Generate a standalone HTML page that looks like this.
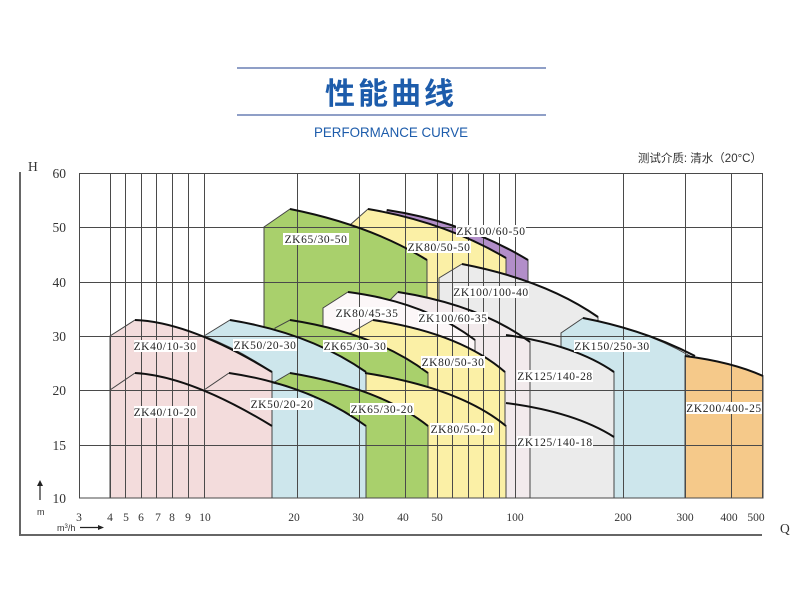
<!DOCTYPE html>
<html><head><meta charset="utf-8"><style>
html,body{margin:0;padding:0;background:#fff;}
svg{display:block;}
.lb{font-family:"Liberation Serif",serif;font-size:11.5px;letter-spacing:0.6px;fill:#222;}
.ax{font-family:"Liberation Serif",serif;font-size:13.5px;fill:#333;}
.xt{font-family:"Liberation Serif",serif;font-size:11.5px;fill:#333;}
</style></head><body>
<svg width="800" height="594" viewBox="0 0 800 594" xmlns="http://www.w3.org/2000/svg">
<!-- header -->
<line x1="237" y1="68" x2="546" y2="68" stroke="#1f3f8f" stroke-width="1"/>
<line x1="237" y1="115" x2="546" y2="115" stroke="#1f3f8f" stroke-width="1"/>
<text x="391" y="104" text-anchor="middle" font-family="'Liberation Sans','Noto Sans CJK SC',sans-serif" font-size="30" font-weight="bold" fill="#1d5cab" letter-spacing="3">性能曲线</text>
<text x="391" y="137" text-anchor="middle" font-family="'Liberation Sans',sans-serif" font-size="14" fill="#1d5cab" textLength="154" lengthAdjust="spacingAndGlyphs">PERFORMANCE CURVE</text>
<text x="762" y="162" text-anchor="end" font-family="'Liberation Sans','Noto Sans CJK SC',sans-serif" font-size="11.5" fill="#333">测试介质: 清水（20°C）</text>

<!-- fills -->
<g stroke="#444" stroke-width="1">
<path d="M387,210 Q465,222 528,260 V292 H387 Z" fill="#b28ec9"/>
<path d="M350,498 V225 L368,209 Q445,222 506,258 V498 Z" fill="#fbf0a6"/>
<path d="M439,498 V278 L462,264 Q545,280 598,317 V340 H614 V498 Z" fill="#ebebeb"/>
<path d="M561,498 V333 L583,318 Q645,330 690,356 L685,356 V498 Z" fill="#cde6ec"/>
<path d="M506,498 V335 Q575,345 614,372 V498 Z" fill="#ebebeb"/>
<path d="M685,498 V356 Q732,362 763,376 V498 Z" fill="#f5c98a"/>
<path d="M264,498 V227 L290,209 Q370,225 427,260 V498 Z" fill="#a9d06c"/>
<path d="M390,498 V300 L398,292 Q480,305 530,342 V498 Z" fill="#f2eaec"/>
<path d="M323,498 V308 L348,292 Q425,302 475,340 V498 Z" fill="#fcf7f8"/>
<path d="M347,498 V335 L373,320 Q460,333 505,372 V498 Z" fill="#fbf0a6"/>
<path d="M275,498 V328 L290,320 Q375,333 428,373 V498 Z" fill="#a9d06c"/>
<path d="M350,498 V383 L365,373 Q460,388 506,426 V498 Z" fill="#fbf0a6"/>
<path d="M110,498 V336 L135,320 Q190,322 272,372 V498 Z" fill="#f3dcdc"/>
<path d="M204,336 L230,320 Q310,333 366,372 V498 H272 V372 Q240,350 204,336 Z" fill="#cde6ec"/>
<path d="M273,383 L290,373 Q380,388 428,426 V498 H366 V426 Q320,393 273,383 Z" fill="#a9d06c"/>
</g>

<!-- grid -->
<g stroke="#4a4a4a" stroke-width="1" fill="none">
<rect x="79.5" y="173.5" width="683" height="324.5"/>
<line x1="80" y1="227.5" x2="763" y2="227.5"/>
<line x1="80" y1="282.5" x2="763" y2="282.5"/>
<line x1="80" y1="336.5" x2="763" y2="336.5"/>
<line x1="80" y1="390.5" x2="763" y2="390.5"/>
<line x1="80" y1="445.5" x2="763" y2="445.5"/>
<path d="M110.5,173V498 M125.5,173V498 M141.5,173V498 M156.5,173V498 M172.5,173V498 M188.5,173V498 M204.5,173V498 M297.5,173V498 M359.5,173V498 M405.5,173V498 M437.5,173V498 M452.5,173V498 M468.5,173V498 M483.5,173V498 M499.5,173V498 M515.5,173V498 M623.5,173V498 M685.5,173V498 M731.5,173V498"/>
</g>

<!-- curves -->
<g stroke="#111" stroke-width="2" fill="none">
<path d="M387,210 Q465,222 528,260"/>
<path d="M368,209 Q445,222 506,258"/>
<path d="M290,209 Q370,225 427,260"/>
<path d="M462,264 Q545,280 598,317"/>
<path d="M583,318 Q645,330 695,356"/>
<path d="M685,356 Q732,362 763,376"/>
<path d="M506,335 Q575,345 614,372"/>
<path d="M506,403 Q575,412 614,437"/>
<path d="M398,292 Q480,305 530,342"/>
<path d="M348,292 Q425,302 475,340"/>
<path d="M373,320 Q460,333 505,372"/>
<path d="M290,320 Q375,333 428,373"/>
<path d="M365,373 Q460,388 506,426"/>
<path d="M290,373 Q380,388 428,426"/>
<path d="M135,320 Q190,322 272,372"/>
<path d="M135,373 Q190,376 272,426"/>
<path d="M230,320 Q310,333 366,372"/>
<path d="M229,373 Q310,385 366,426"/>
</g>
<g stroke="#444" stroke-width="1" fill="none">
<path d="M110,390 L135,373 M204,390 L229,373 M272,426 V498 M366,426 V498"/>
</g>

<!-- labels -->
<g class="lb" text-anchor="middle">
<g fill="#fff" stroke="none">
<rect x="283" y="233" width="66" height="12"/><rect x="407" y="241" width="64" height="12"/>
<rect x="456" y="225" width="70" height="12"/><rect x="454" y="286" width="75" height="12"/>
<rect x="336" y="307" width="62" height="12"/><rect x="418" y="312" width="70" height="12"/>
<rect x="134" y="340" width="63" height="12"/><rect x="233" y="339" width="64" height="12"/>
<rect x="323" y="340" width="64" height="12"/><rect x="421" y="356" width="64" height="12"/>
<rect x="517" y="370" width="76" height="12"/><rect x="574" y="340" width="76" height="12"/>
<rect x="134" y="406" width="63" height="12"/><rect x="250" y="398" width="64" height="12"/>
<rect x="350" y="403" width="64" height="12"/><rect x="430" y="423" width="64" height="12"/>
<rect x="686" y="402" width="76" height="12"/><rect x="517" y="436" width="76" height="12"/>
</g>
<text x="316" y="243">ZK65/30-50</text>
<text x="439" y="251">ZK80/50-50</text>
<text x="491" y="235">ZK100/60-50</text>
<text x="491" y="296">ZK100/100-40</text>
<text x="367" y="317">ZK80/45-35</text>
<text x="453" y="322">ZK100/60-35</text>
<text x="165" y="350">ZK40/10-30</text>
<text x="265" y="349">ZK50/20-30</text>
<text x="355" y="350">ZK65/30-30</text>
<text x="453" y="366">ZK80/50-30</text>
<text x="555" y="380">ZK125/140-28</text>
<text x="612" y="350">ZK150/250-30</text>
<text x="165" y="416">ZK40/10-20</text>
<text x="282" y="408">ZK50/20-20</text>
<text x="382" y="413">ZK65/30-20</text>
<text x="462" y="433">ZK80/50-20</text>
<text x="724" y="412">ZK200/400-25</text>
<text x="555" y="446">ZK125/140-18</text>
</g>

<!-- axes -->
<line x1="20" y1="172" x2="20" y2="536" stroke="#666" stroke-width="2"/>
<line x1="20" y1="535" x2="762" y2="535" stroke="#666" stroke-width="2"/>
<text x="28" y="171" class="ax">H</text>
<text x="780" y="533" class="ax" font-size="15">Q</text>
<g class="ax" text-anchor="end">
<text x="66" y="178">60</text><text x="66" y="232">50</text><text x="66" y="287">40</text>
<text x="66" y="341">30</text><text x="66" y="395">20</text><text x="66" y="450">15</text>
<text x="66" y="503">10</text>
</g>
<g class="xt" text-anchor="middle">
<text x="79" y="521">3</text><text x="110" y="521">4</text><text x="126" y="521">5</text>
<text x="141" y="521">6</text><text x="158" y="521">7</text><text x="172" y="521">8</text>
<text x="188" y="521">9</text><text x="205" y="521">10</text><text x="294" y="521">20</text>
<text x="358" y="521">30</text><text x="403" y="521">40</text><text x="437" y="521">50</text>
<text x="515" y="521">100</text><text x="623" y="521">200</text><text x="685" y="521">300</text>
<text x="729" y="521">400</text><text x="756" y="521">500</text>
</g>
<line x1="40" y1="500" x2="40" y2="484" stroke="#222" stroke-width="1.2"/>
<path d="M37,486 L40,480 L43,486 Z" fill="#222"/>
<text x="37" y="515" font-family="'Liberation Sans',sans-serif" font-size="9" fill="#333">m</text>
<text x="57" y="531" font-family="'Liberation Sans',sans-serif" font-size="9" fill="#333">m<tspan dy="-3" font-size="6">3</tspan><tspan dy="3">/h</tspan></text>
<line x1="80" y1="527.5" x2="100" y2="527.5" stroke="#222" stroke-width="1.2"/>
<path d="M98,525 L104,527.5 L98,530 Z" fill="#222"/>
</svg>
</body></html>
